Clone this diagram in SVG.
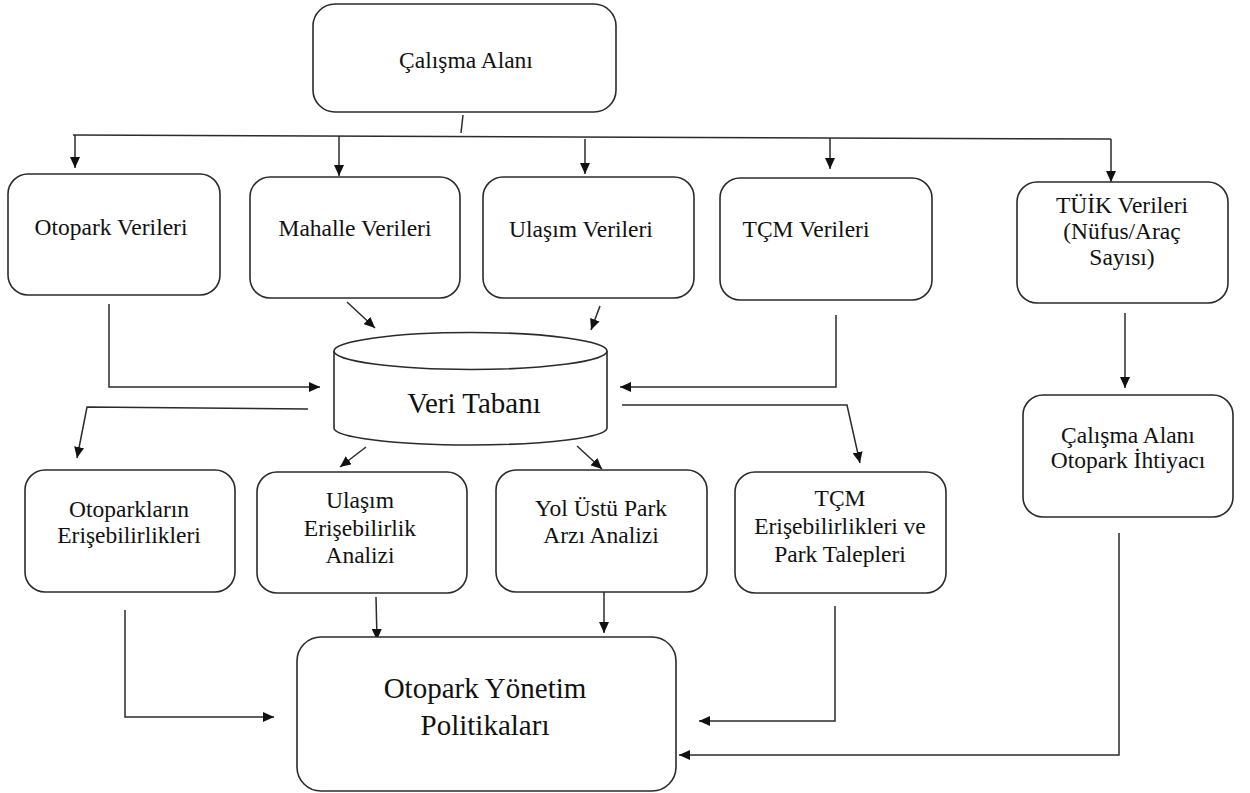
<svg xmlns="http://www.w3.org/2000/svg" width="1250" height="793" viewBox="0 0 1250 793">
<style>
.box{fill:#fff;stroke:#2b2b2b;stroke-width:1.6}
text{fill:#111;text-anchor:middle}
.t{font-size:23.5px}
.tb{font-size:29px}
.c{fill:none;stroke:#2b2b2b;stroke-width:1.5}
.a{marker-end:url(#ah)}
</style>
<defs>
<marker id="ah" markerUnits="userSpaceOnUse" markerWidth="11" markerHeight="10" refX="11" refY="5" orient="auto">
<path d="M0,0 L11,5 L0,10 z" fill="#111"/>
</marker>
</defs>
<rect width="1250" height="793" fill="#fff"/>

<g id="connectors">
<line class="c" x1="463" y1="115" x2="461" y2="133"/>
<line class="c" x1="73" y1="135" x2="1111" y2="139"/>
<line class="c a" x1="75" y1="135" x2="75" y2="168"/>
<line class="c a" x1="339" y1="136" x2="339" y2="176"/>
<line class="c a" x1="585" y1="139" x2="585" y2="174"/>
<line class="c a" x1="830" y1="138" x2="830" y2="169"/>
<line class="c a" x1="1111" y1="139" x2="1111" y2="182"/>
<polyline class="c a" points="109,304 109,387 320,387"/>
<line class="c a" x1="347" y1="302" x2="375" y2="328"/>
<line class="c a" x1="600" y1="306" x2="591" y2="330"/>
<polyline class="c a" points="836,315 836,387 620,387"/>
<polyline class="c a" points="308,409 87,407 77,458"/>
<line class="c a" x1="366" y1="447" x2="340" y2="467"/>
<line class="c a" x1="577" y1="446" x2="602" y2="469"/>
<polyline class="c a" points="622,405 847,405 860,463"/>
<line class="c a" x1="1125" y1="313" x2="1125" y2="388"/>
<polyline class="c a" points="125,610 125,717 274,717"/>
<line class="c a" x1="376" y1="597" x2="377" y2="640"/>
<line class="c a" x1="604" y1="592" x2="604" y2="633"/>
<polyline class="c a" points="835,606 835,721 699,721"/>
<polyline class="c a" points="1119,533 1119,755 679,755"/>
</g>

<g id="calisma-alani">
<rect class="box" x="313" y="4" width="303" height="108" rx="22"/>
<text class="t" x="466" y="68" font-family="Liberation Serif">Çalışma Alanı</text>
</g>
<g id="otopark-verileri">
<rect class="box" x="8" y="174" width="212" height="121" rx="20"/>
<text class="t" x="111" y="235" font-family="Liberation Serif">Otopark Verileri</text>
</g>
<g id="mahalle-verileri">
<rect class="box" x="250" y="177" width="210" height="121" rx="20"/>
<text class="t" x="355" y="236" font-family="Liberation Serif">Mahalle Verileri</text>
</g>
<g id="ulasim-verileri">
<rect class="box" x="483" y="177" width="211" height="121" rx="20"/>
<text class="t" x="581" y="237" font-family="Liberation Serif">Ulaşım Verileri</text>
</g>
<g id="tcm-verileri">
<rect class="box" x="720" y="178" width="212" height="122" rx="20"/>
<text class="t" x="806" y="237" font-family="Liberation Serif">TÇM Verileri</text>
</g>
<g id="tuik-verileri">
<rect class="box" x="1017" y="182" width="211" height="121" rx="20"/>
<text class="t" x="1122" y="213" font-family="Liberation Serif">TÜİK Verileri</text>
<text class="t" x="1122" y="239" font-family="Liberation Serif">(Nüfus/Araç</text>
<text class="t" x="1122" y="265" font-family="Liberation Serif">Sayısı)</text>
</g>
<g id="veri-tabani">
<path d="M334,351 L334,428 A136.5,17 0 0 0 607,428 L607,351" fill="#fff" stroke="#2b2b2b" stroke-width="1.6"/>
<ellipse cx="470.5" cy="351" rx="136.5" ry="18.5" fill="#fff" stroke="#2b2b2b" stroke-width="1.6"/>
<text class="tb" x="474" y="413" font-family="Liberation Serif">Veri Tabanı</text>
</g>
<g id="otopark-ihtiyaci">
<rect class="box" x="1023" y="395" width="210" height="122" rx="20"/>
<text class="t" x="1128" y="443" font-family="Liberation Serif">Çalışma Alanı</text>
<text class="t" x="1128" y="468" font-family="Liberation Serif">Otopark İhtiyacı</text>
</g>
<g id="otoparklarin-erisebilirlikleri">
<rect class="box" x="25" y="470" width="210" height="122" rx="20"/>
<text class="t" x="129" y="517" font-family="Liberation Serif">Otoparkların</text>
<text class="t" x="129" y="543" font-family="Liberation Serif">Erişebilirlikleri</text>
</g>
<g id="ulasim-erisebilirlik">
<rect class="box" x="257" y="472" width="210" height="121" rx="20"/>
<text class="t" x="360" y="508" font-family="Liberation Serif">Ulaşım</text>
<text class="t" x="360" y="536" font-family="Liberation Serif">Erişebilirlik</text>
<text class="t" x="360" y="563" font-family="Liberation Serif">Analizi</text>
</g>
<g id="yol-ustu">
<rect class="box" x="496" y="470" width="211" height="122" rx="20"/>
<text class="t" x="601" y="516" font-family="Liberation Serif">Yol Üstü Park</text>
<text class="t" x="601" y="543" font-family="Liberation Serif">Arzı Analizi</text>
</g>
<g id="tcm-erisebilirlik">
<rect class="box" x="735" y="472" width="211" height="121" rx="20"/>
<text class="t" x="840" y="506" font-family="Liberation Serif">TÇM</text>
<text class="t" x="840" y="534" font-family="Liberation Serif">Erişebilirlikleri ve</text>
<text class="t" x="840" y="562" font-family="Liberation Serif">Park Talepleri</text>
</g>
<g id="otopark-yonetim">
<rect class="box" x="297" y="637" width="379" height="154" rx="24"/>
<text class="tb" x="485" y="698" font-family="Liberation Serif">Otopark Yönetim</text>
<text class="tb" x="485" y="735" font-family="Liberation Serif">Politikaları</text>
</g>
</svg>
